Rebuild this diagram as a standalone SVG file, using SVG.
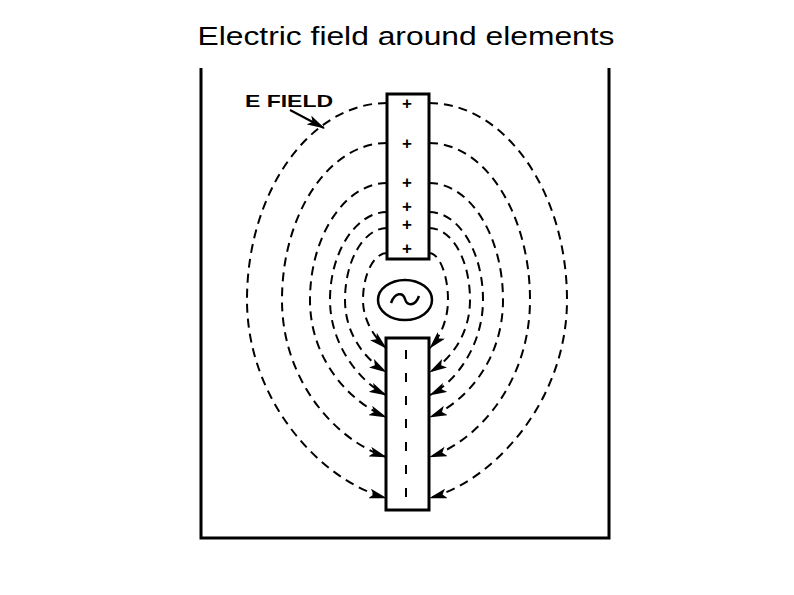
<svg xmlns="http://www.w3.org/2000/svg" width="794" height="595" viewBox="0 0 794 595">
<style>
.f{fill:none;stroke:#000;stroke-width:2;stroke-dasharray:9,6;marker-end:url(#a)}
.b{fill:#fff;stroke:#000;stroke-width:3}
.p{font-family:"Liberation Sans",sans-serif;font-weight:bold;font-size:17px;text-anchor:middle}
</style>
<defs><marker id="a" markerWidth="18" markerHeight="10" refX="17" refY="5" orient="auto" markerUnits="userSpaceOnUse"><path d="M0,0 L18,5 L0,10 L4,5 Z" fill="#000"/></marker></defs>
<rect width="794" height="595" fill="#fff"/>
<text x="406" y="45" font-family="Liberation Sans,sans-serif" font-size="26" text-anchor="middle" textLength="417" lengthAdjust="spacingAndGlyphs">Electric field around elements</text>
<path d="M201,68 V538 H609 V68" fill="none" stroke="#000" stroke-width="3"/>
<g id="connectors">
<path class="f" d="M387,103 C310,103 247,192 247,300 C247,400 320,480 386,498"/>
<path class="f" d="M387,143 C329,143 282,214 282,300 C282,380 335,440 386,457"/>
<path class="f" d="M387,183 C345,183 310,236 310,300 C310,360 350,402 386,417"/>
<path class="f" d="M387,212 C356,212 330,252 330,300 C330,345 360,382 386,395"/>
<path class="f" d="M387,228 C364,228 345,260 345,300 C345,335 366,360 386,372"/>
<path class="f" d="M387,253 C374,253 363,274 363,300 C363,320 374,337 386,348"/>
<path class="f" d="M429,103 C505,103 567,192 567,300 C567,400 495,480 430,498"/>
<path class="f" d="M429,143 C485,143 530,214 530,300 C530,380 480,440 430,457"/>
<path class="f" d="M429,183 C470,183 503,236 503,300 C503,360 466,402 430,417"/>
<path class="f" d="M429,212 C459,212 483,252 483,300 C483,345 456,382 430,395"/>
<path class="f" d="M429,228 C452,228 470,260 470,300 C470,335 450,360 430,372"/>
<path class="f" d="M429,253 C439,253 448,274 448,300 C448,320 440,337 430,348"/>
<path d="M290,110 L324,128" stroke="#000" stroke-width="2" marker-end="url(#a)"/>
</g>
<text x="245" y="107" font-family="Liberation Sans,sans-serif" font-weight="bold" font-size="17" textLength="88" lengthAdjust="spacingAndGlyphs">E FIELD</text>
<g id="top-element"><rect class="b" x="387" y="94" width="42" height="165"/>
<text class="p" x="407" y="109">+</text><text class="p" x="407" y="149">+</text><text class="p" x="407" y="188">+</text><text class="p" x="407" y="212">+</text><text class="p" x="407" y="230">+</text><text class="p" x="407" y="254">+</text></g>
<g id="source"><ellipse cx="405" cy="300" rx="27" ry="20" fill="#fff" stroke="#000" stroke-width="2.5"/>
<path d="M391,303 C395,292 403,292 405,299 C407,306 415,307 419,296" fill="none" stroke="#000" stroke-width="2.5"/></g>
<g id="bottom-element"><rect class="b" x="386" y="338" width="43" height="172"/>
<path d="M406,350 V505" stroke="#000" stroke-width="2" stroke-dasharray="9,14"/></g>
</svg>
